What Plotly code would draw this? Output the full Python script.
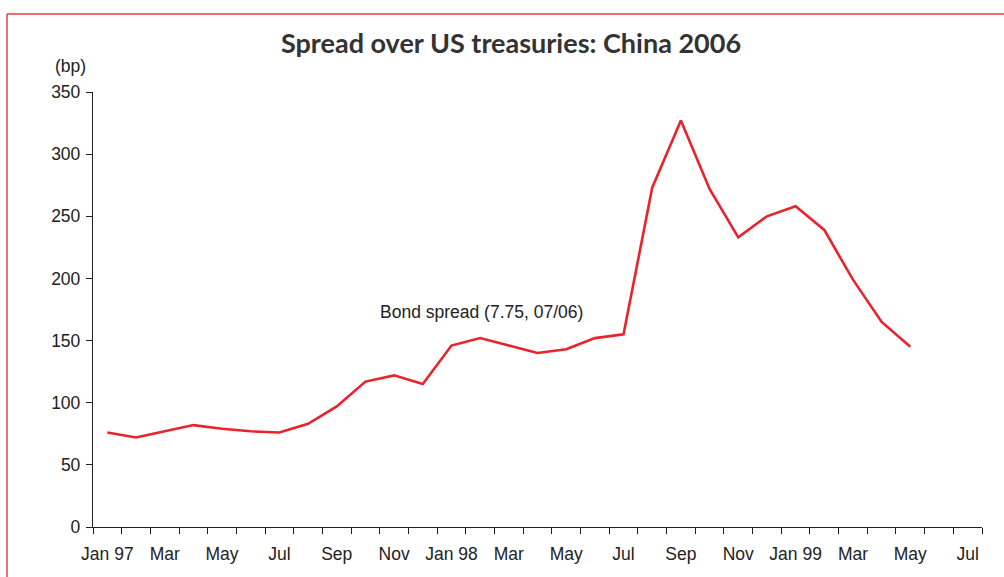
import plotly.graph_objects as go

# Monthly bond spread, Jan 1997 - May 1999 (bp)
months = ["Jan 97", "Feb 97", "Mar 97", "Apr 97", "May 97", "Jun 97", "Jul 97", "Aug 97",
          "Sep 97", "Oct 97", "Nov 97", "Dec 97", "Jan 98", "Feb 98", "Mar 98", "Apr 98",
          "May 98", "Jun 98", "Jul 98", "Aug 98", "Sep 98", "Oct 98", "Nov 98", "Dec 98",
          "Jan 99", "Feb 99", "Mar 99", "Apr 99", "May 99"]
spread = [76, 72, 77, 82, 79, 77, 76, 83, 97, 117, 122, 115, 146, 152, 146, 140,
          143, 152, 155, 273, 327, 272, 233, 250, 258, 239, 199, 165, 145]

# Axis labels, one every two months (31 months on the axis: Jan 97 - Jul 99)
tick_labels = ["Jan 97", "Mar", "May", "Jul", "Sep", "Nov", "Jan 98", "Mar", "May",
               "Jul", "Sep", "Nov", "Jan 99", "Mar", "May", "Jul"]
n_axis_months = 31
y_ticks = [0, 50, 100, 150, 200, 250, 300, 350]

# Points sit in the middle of each month slot
x_pos = [i + 0.5 for i in range(len(months))]
label_pos = [2 * i + 0.5 for i in range(len(tick_labels))]

fig = go.Figure()
fig.add_trace(go.Scatter(
    x=x_pos, y=spread, mode="lines",
    line=dict(color="#e8232b", width=2.6),
    text=months, hoverinfo="text+y", showlegend=False,
))

tick_font = dict(family="Liberation Sans, Arial, sans-serif", size=17.5, color="#222")

fig.update_layout(
    width=1004, height=577,
    margin=dict(l=93, r=22, t=92, b=50),
    paper_bgcolor="white", plot_bgcolor="white",
    title=dict(text="<b>Spread over US treasuries: China 2006</b>",
               x=0.509, xanchor="center", y=0.925, yanchor="middle",
               font=dict(family="Lato, Open Sans, sans-serif", size=27, color="#333")),
    xaxis=dict(
        range=[0, n_axis_months], showgrid=False, zeroline=False,
        showline=True, linecolor="#222", linewidth=1.3,
        tickmode="array", tickvals=label_pos, ticktext=tick_labels,
        ticks="outside", ticklen=0, tickcolor="rgba(0,0,0,0)",
        ticklabelstandoff=11,
        tickfont=tick_font,
        minor=dict(tick0=0, dtick=1, ticks="outside", ticklen=6,
                   tickcolor="#222", tickwidth=1.2, showgrid=False),
    ),
    yaxis=dict(
        range=[0, 350], showgrid=False, zeroline=False,
        showline=True, linecolor="#222", linewidth=1.3,
        tickmode="array", tickvals=y_ticks,
        ticks="outside", ticklen=6, tickcolor="#222", tickwidth=1.2,
        ticklabelstandoff=2,
        tickfont=tick_font,
    ),
    annotations=[
        dict(text="(bp)", xref="paper", yref="paper",
             x=(70 - 93) / 889, y=(527 - 66) / 435,
             xanchor="center", yanchor="middle", showarrow=False,
             font=tick_font),
        dict(text="Bond spread (7.75, 07/06)", xref="x", yref="y",
             x=13.55, y=173, xanchor="center", yanchor="middle",
             showarrow=False, font=tick_font),
    ],
    shapes=[
        # red page frame
        dict(type="line", xref="paper", yref="paper",
             x0=(7 - 93) / 889, x1=(1004 - 93) / 889,
             y0=(527 - 14) / 435, y1=(527 - 14) / 435,
             line=dict(color="#e0404e", width=1.5)),
        dict(type="line", xref="paper", yref="paper",
             x0=(7 - 93) / 889, x1=(7 - 93) / 889,
             y0=(527 - 14) / 435, y1=(527 - 577) / 435,
             line=dict(color="#e0404e", width=1.5)),
    ],
)

fig.write_html("out.html")
